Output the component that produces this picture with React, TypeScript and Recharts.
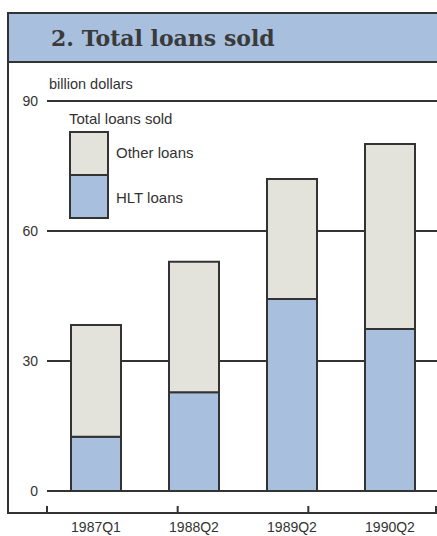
import React from "react";
import { Bar, BarChart, CartesianGrid, Legend, XAxis, YAxis } from "recharts";

const quarters = ["1987Q1", "1988Q2", "1989Q2", "1990Q2"];
const hltLoans = [12.5, 22.8, 44.3, 37.4];
const otherLoans = [25.8, 30.1, 27.7, 42.7];
const yTicks = [0, 30, 60, 90];
// category boundaries, drawn as tick marks between the bars
const edgeTicks = [0, 1, 2, 3, 4];

const data = quarters.map((q, i) => ({
  quarter: q,
  hlt: hltLoans[i],
  other: otherLoans[i],
}));

const INK = "#333333";
const BLUE = "#a8c0de";
const GRAY = "#e3e3dc";
const SANS = "'Liberation Sans', Arial, sans-serif";

function EdgeTick(props: any) {
  const { x, y } = props;
  return <line x1={x} x2={x} y1={y - 8} y2={y} stroke={INK} strokeWidth={2} />;
}

function LegendBox({ payload }: any) {
  const items = [...(payload || [])].reverse();
  return (
    <div style={{ position: "relative", width: 170, height: 110, fontFamily: SANS, color: INK }}>
      <div style={{ position: "absolute", left: 0, top: 0, fontSize: 15, lineHeight: "17px" }}>
        Total loans sold
      </div>
      <div
        style={{
          position: "absolute",
          left: 0,
          top: 21,
          width: 36,
          border: `2px solid ${INK}`,
        }}
      >
        {items.map((it: any, i: number) => (
          <div
            key={it.value}
            style={{
              height: 41,
              background: it.color,
              borderTop: i === 0 ? "none" : `2px solid ${INK}`,
            }}
          />
        ))}
      </div>
      {items.map((it: any, i: number) => (
        <div
          key={"t" + it.value}
          style={{
            position: "absolute",
            left: 47,
            top: i === 0 ? 34 : 79,
            fontSize: 15,
            lineHeight: "17px",
          }}
        >
          {it.value}
        </div>
      ))}
    </div>
  );
}

export default function App() {
  return (
    <div style={{ position: "absolute", left: 0, top: 0, width: 437, height: 536, overflow: "hidden", background: "#fff" }}>
      <div
        style={{
          position: "absolute",
          left: 7,
          top: 12,
          width: 440,
          height: 500,
          borderLeft: `2px solid ${INK}`,
          borderBottom: `2px solid ${INK}`,
        }}
      />
      <div
        style={{
          position: "absolute",
          left: 7,
          top: 12,
          width: 440,
          height: 47,
          background: BLUE,
          borderTop: `2px solid ${INK}`,
          borderBottom: `2px solid ${INK}`,
          borderLeft: `2px solid ${INK}`,
        }}
      >
        <div
          style={{
            position: "absolute",
            left: 42,
            top: 11,
            fontFamily: "'DejaVu Serif', 'Liberation Serif', serif",
            fontWeight: "bold",
            fontSize: 22,
            color: "#3a3a3a",
            lineHeight: "26px",
          }}
        >
          2. Total loans sold
        </div>
      </div>
      <div
        style={{
          position: "absolute",
          left: 49,
          top: 76,
          fontFamily: SANS,
          fontSize: 14.5,
          color: INK,
          lineHeight: "16px",
        }}
      >
        billion dollars
      </div>
      <div style={{ position: "absolute", left: 0, top: 0 }}>
        <BarChart
          width={440}
          height={536}
          data={data}
          margin={{ top: 101, right: 1, bottom: 0, left: 0 }}
          barSize={50}
        >
          <CartesianGrid vertical={false} stroke={INK} strokeWidth={2} />
          <XAxis
            xAxisId="cat"
            dataKey="quarter"
            height={23}
            interval={0}
            axisLine={false}
            tickLine={false}
            tickSize={0}
            tickMargin={31}
            tick={{ fill: INK, fontSize: 14, fontFamily: SANS }}
          />
          <XAxis
            xAxisId="edges"
            type="number"
            domain={[0, 4]}
            ticks={edgeTicks}
            allowDataOverflow
            height={22}
            axisLine={false}
            tickLine={false}
            tickSize={0}
            tickMargin={0}
            tick={EdgeTick}
          />
          <YAxis
            width={47}
            domain={[0, 90]}
            ticks={yTicks}
            axisLine={false}
            tickLine={false}
            tickSize={0}
            tickMargin={9}
            tick={{ fill: INK, fontSize: 14, fontFamily: SANS }}
          />
          <Legend
            layout="horizontal"
            verticalAlign="middle"
            align="center"
            content={LegendBox}
            wrapperStyle={{ left: 69, top: 110, width: 170 }}
          />
          <Bar
            xAxisId="cat"
            dataKey="hlt"
            name="HLT loans"
            stackId="a"
            fill={BLUE}
            stroke={INK}
            strokeWidth={2}
            isAnimationActive={false}
          />
          <Bar
            xAxisId="cat"
            dataKey="other"
            name="Other loans"
            stackId="a"
            fill={GRAY}
            stroke={INK}
            strokeWidth={2}
            isAnimationActive={false}
          />
        </BarChart>
      </div>
    </div>
  );
}
